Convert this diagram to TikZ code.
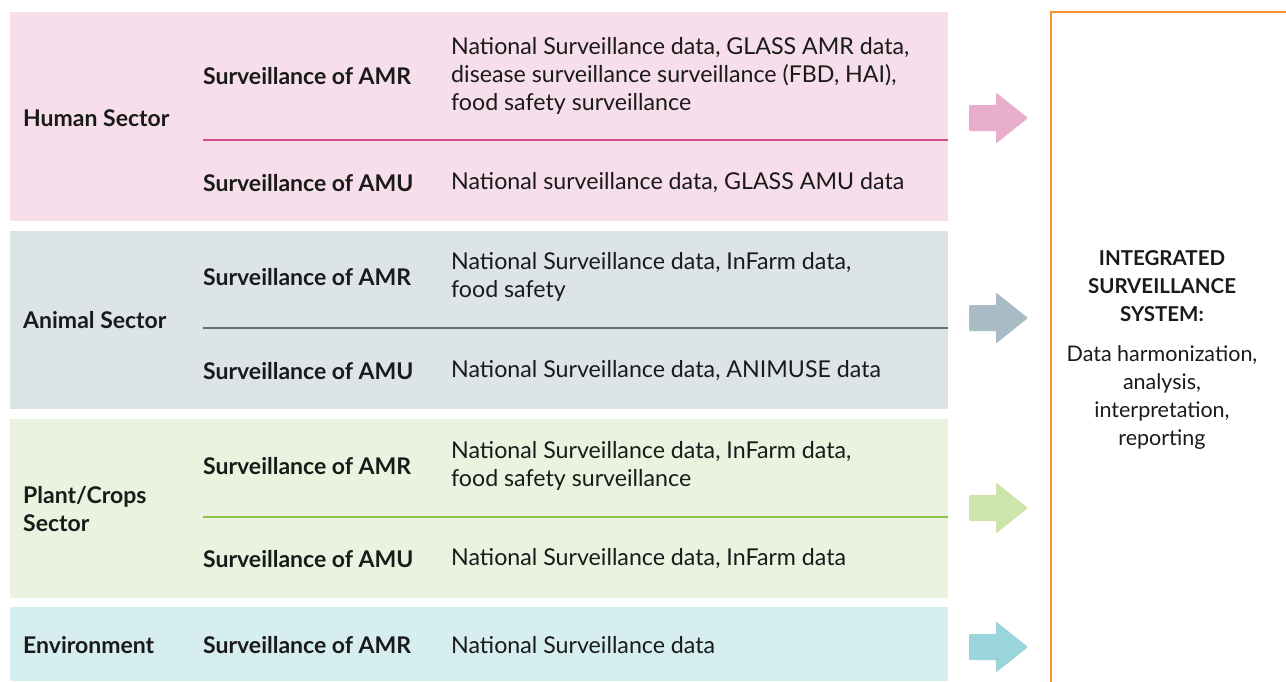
\documentclass[tikz,border=0pt]{standalone}
\usepackage{fontspec}
\setmainfont{Lato}
\definecolor{hband}{HTML}{F6DFEA}
\definecolor{hline}{HTML}{D94A8C}
\definecolor{harrow}{HTML}{E8AECB}
\definecolor{aband}{HTML}{DDE4E8}
\definecolor{aline}{HTML}{5F7380}
\definecolor{aarrow}{HTML}{A9BCC6}
\definecolor{pband}{HTML}{EAF3DF}
\definecolor{pline}{HTML}{8DC34A}
\definecolor{parrow}{HTML}{CDE4AC}
\definecolor{eband}{HTML}{D6EEF0}
\definecolor{earrow}{HTML}{99D5DA}
\definecolor{orng}{HTML}{F7922F}
\definecolor{txt}{HTML}{1A1A1A}
\tikzset{
  sector/.style={anchor=west,inner sep=0pt,font=\fontsize{23}{28}\selectfont\bfseries,text=txt,align=left},
  survey/.style={anchor=west,inner sep=0pt,font=\fontsize{23}{28}\selectfont\bfseries,text=txt},
  datatext/.style={anchor=west,inner sep=0pt,font=\fontsize{23.2}{28}\selectfont,text=txt,align=left},
  systext/.style={inner sep=0pt,font=\fontsize{21.5}{28}\selectfont,text=txt,align=center},
}
\newcommand{\flowarrow}[3]{% color, name, center y
  \fill[#1,rounded corners=1pt] (969,#3-13) -- (996,#3-13) -- (996,#3-25.5) -- (1028,#3) -- (996,#3+25.5) -- (996,#3+13) -- (969,#3+13) -- cycle;
  \coordinate (#2) at (1028,#3);
}
\begin{document}
\begin{tikzpicture}[x=1pt,y=-1pt]
\useasboundingbox (0,0) rectangle (1286,681);
% bands
\fill[hband] (10,12) rectangle (948,221);
\fill[aband] (10,231) rectangle (948,409);
\fill[pband] (10,419) rectangle (948,598);
\fill[eband] (10,607) rectangle (948,681);
% dividers
\draw[hline,line width=1.2pt] (203,140) -- (948,140);
\draw[aline,line width=1.2pt] (203,328) -- (948,328);
\draw[pline,line width=1.2pt] (203,517) -- (948,517);
% Human
\node[sector] (hs) at (23,118) {Human Sector};
\node[survey] (hamr) at (203,76) {Surveillance of AMR};
\node[datatext] (hamrd) at (451,76) {National Surveillance data, GLASS AMR data,\\disease surveillance surveillance (FBD, HAI),\\food safety surveillance};
\node[survey] (hamu) at (203,183) {Surveillance of AMU};
\node[datatext] (hamud) at (451,183) {National surveillance data, GLASS AMU data};
% Animal
\node[sector] (as) at (23,320) {Animal Sector};
\node[survey] (aamr) at (203,277) {Surveillance of AMR};
\node[datatext] (aamrd) at (451,277) {National Surveillance data, InFarm data,\\food safety};
\node[survey] (aamu) at (203,371) {Surveillance of AMU};
\node[datatext] (aamud) at (451,371) {National Surveillance data, ANIMUSE data};
% Plant
\node[sector] (ps) at (23,509) {Plant/Crops\\Sector};
\node[survey] (pamr) at (203,466) {Surveillance of AMR};
\node[datatext] (pamrd) at (451,466) {National Surveillance data, InFarm data,\\food safety surveillance};
\node[survey] (pamu) at (203,559) {Surveillance of AMU};
\node[datatext] (pamud) at (451,559) {National Surveillance data, InFarm data};
% Environment
\node[sector] (es) at (23,645) {Environment};
\node[survey] (eamr) at (203,645) {Surveillance of AMR};
\node[datatext] (eamrd) at (451,645) {National Surveillance data};
% arrows
\flowarrow{harrow}{ha}{118}
\flowarrow{aarrow}{aa}{318}
\flowarrow{parrow}{pa}{508}
\flowarrow{earrow}{ea}{647}
% integrated system box
\draw[orng,line width=2pt] (1051,690) -- (1051,12) -- (1295,12);
\node[systext,font=\fontsize{20.5}{28}\selectfont\bfseries] (sys) at (1162,286) {INTEGRATED\\SURVEILLANCE\\SYSTEM:};
\node[systext] (sysd) at (1162,398) {Data harmonization,\\analysis,\\interpretation,\\reporting};
\end{tikzpicture}
\end{document}
